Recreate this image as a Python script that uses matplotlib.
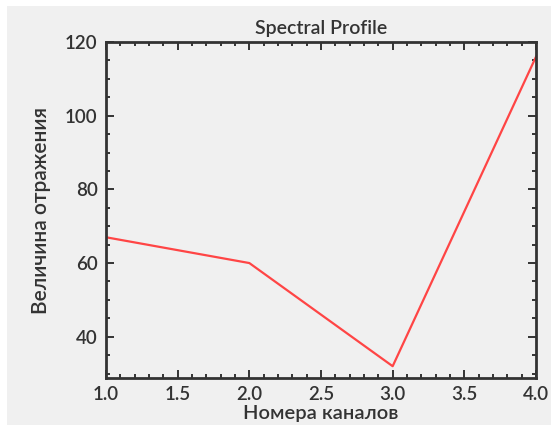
import matplotlib
matplotlib.use("Agg")
import matplotlib.pyplot as plt
from matplotlib.ticker import MultipleLocator
from matplotlib.patches import Rectangle

channels = [1.0, 2.0, 3.0, 4.0]
values = [67, 60, 32, 116]
title = "Spectral Profile"
xlabel = "Номера каналов"
ylabel = "Величина отражения"

plt.rcParams['font.family'] = ['Lato', 'DejaVu Sans']
plt.rcParams['font.weight'] = 'semibold'
W, H = 557, 434
fig = plt.figure(figsize=(W/100, H/100), dpi=100)
fig.patch.set_facecolor('white')
bg = '#f0f0f0'
fig.patches.append(Rectangle((7/W, 1-425/H), (551-7)/W, (425-6)/H,
                             transform=fig.transFigure, facecolor=bg, edgecolor='none', zorder=-5))

l, r, t, b = 106, 536, 42, 378
ax = fig.add_axes([l/W, 1-b/H, (r-l)/W, (b-t)/H], zorder=2)
ax.set_facecolor(bg)
ax.plot(channels, values, color='#ff4545', lw=1.6)
ax.set_xlim(1.0, 4.0)
ax.set_ylim(28.8, 120)
ax.xaxis.set_major_locator(MultipleLocator(0.5))
ax.xaxis.set_minor_locator(MultipleLocator(0.1))
ax.yaxis.set_major_locator(MultipleLocator(20))
ax.yaxis.set_minor_locator(MultipleLocator(5))
ax.tick_params(which='both', direction='in', top=True, right=True, color='#333333', width=1.4)
ax.tick_params(which='major', length=6, labelsize=13.5, labelcolor='#333333', pad=6)
ax.tick_params(which='minor', length=3)
for s in ax.spines.values():
    s.set_linewidth(2)
    s.set_color('#333333')
ax.set_title(title, fontsize=14, color='#333333', pad=6, fontweight='semibold')
ax.set_xlabel(xlabel, fontsize=14.5, color='#333333', labelpad=1, fontweight='semibold')
ax.set_ylabel(ylabel, fontsize=15, color='#333333', labelpad=10, fontweight='semibold')
fig.savefig('out.png', dpi=100, facecolor='white')
